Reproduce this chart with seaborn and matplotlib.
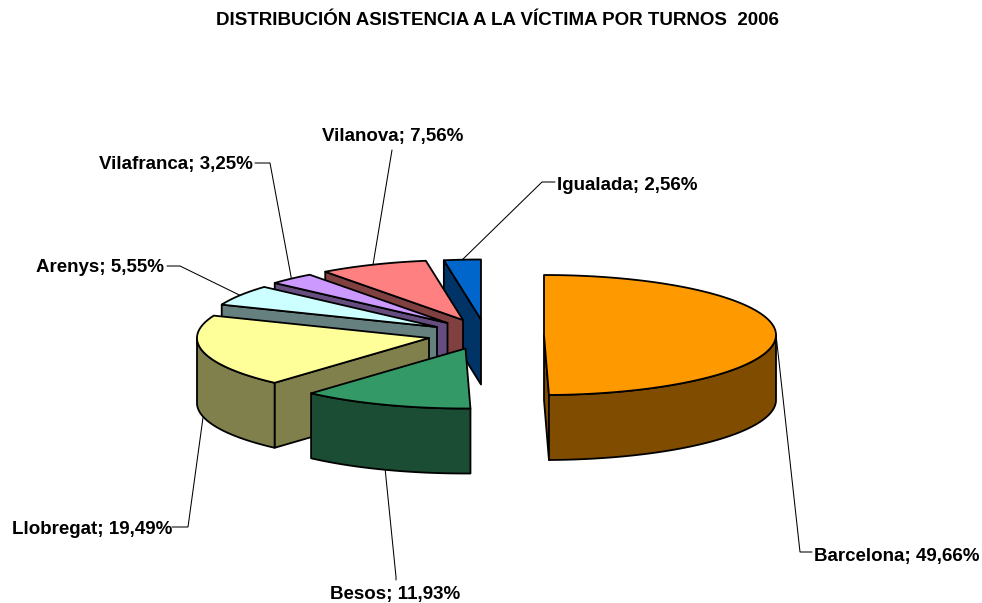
import numpy as np
import matplotlib
matplotlib.use("Agg")
import matplotlib.pyplot as plt
from matplotlib.patches import Polygon
import seaborn as sns

# ---- data ----
categories = ["Barcelona", "Besos", "Llobregat", "Arenys", "Vilafranca", "Vilanova", "Igualada"]
values = [49.66, 11.93, 19.49, 5.55, 3.25, 7.56, 2.56]
title = "DISTRIBUCIÓN ASISTENCIA A LA VÍCTIMA POR TURNOS  2006"

# ---- style ----
top_colors = ["#FF9900", "#339966", "#FFFF99", "#CCFFFF", "#CC99FF", "#FF8080", "#0066CC"]
wall_colors = ["#804D00", "#1A4D33", "#80804D", "#668080", "#664D80", "#804040", "#003366"]

# ---- layout (pixels) ----
pie_x, pie_y = 480, 320
rx, ry, depth = 232, 60, 65
explode_dx = [64, -14.5, -51, -43, -32.5, -17, 1]
explode_dy = [15, 28.5, 18, 7, 3, 0, -0.5]
draw_order = [6, 5, 4, 3, 2, 0, 1]
elbows = [(800, 552), (396, 577), (188, 527), (180, 266), (270, 163), (392, 150), (542, 182)]
label_pos = [(814, 557, "left"), (330, 594, "left"), (172, 530, "right"),
             (164.5, 268, "right"), (252.5, 165, "right"), (322, 137, "left"), (557, 185, "left")]
label_stub = [(812, 552), (396, 580), (172, 527), (167, 266), (255, 163), (392, 150), (555, 182)]

sns.set_style("white")
plt.rcParams["font.family"] = ["Liberation Sans", "DejaVu Sans"]

fig = plt.figure(figsize=(9.82, 6.03), dpi=100)
ax = fig.add_axes([0, 0, 1, 1])
ax.set_xlim(0, 982)
ax.set_ylim(603, 0)
ax.axis("off")

# slice angles, clockwise from north, from the values
edges = np.concatenate([[0], np.cumsum(values)]) / np.sum(values) * 360


def rim(cx, cy, theta):
    t = np.radians(theta)
    return np.column_stack([cx + rx * np.sin(t), cy - ry * np.cos(t)])


def face(points, color, z):
    ax.add_patch(Polygon(points, closed=True, facecolor=color, edgecolor="black",
                         linewidth=1.3, joinstyle="round", zorder=z))


z = 2
for i in draw_order:
    a0, a1 = edges[i], edges[i + 1]
    cx, cy = pie_x + explode_dx[i], pie_y + explode_dy[i]
    apex = np.array([[cx, cy]])
    down = np.array([0, depth])

    # radial walls that face the viewer
    if 180 < a0 < 360:
        p = rim(cx, cy, [a0])
        face(np.vstack([apex, p, p + down, apex + down]), wall_colors[i], z)
        z += 1
    if 0 < a1 < 180:
        p = rim(cx, cy, [a1])
        face(np.vstack([apex, p, p + down, apex + down]), wall_colors[i], z)
        z += 1

    # outer curved wall (front half only)
    lo, hi = max(a0, 90), min(a1, 270)
    if lo < hi:
        arc = rim(cx, cy, np.linspace(lo, hi, 80))
        face(np.vstack([arc, (arc + down)[::-1]]), wall_colors[i], z)
        z += 1

    # top face
    arc = rim(cx, cy, np.linspace(a0, a1, 120))
    face(np.vstack([apex, arc]), top_colors[i], z)
    z += 1

# leader lines and labels
for i, name in enumerate(categories):
    mid = (edges[i] + edges[i + 1]) / 2
    cx, cy = pie_x + explode_dx[i], pie_y + explode_dy[i]
    start = rim(cx, cy, [mid])[0]
    if 90 < mid < 270:
        start = start + np.array([0, depth])
    xs = [start[0], elbows[i][0], label_stub[i][0]]
    ys = [start[1], elbows[i][1], label_stub[i][1]]
    ax.plot(xs, ys, color="black", lw=0.75, zorder=50, solid_joinstyle="miter")
    text = f"{name}; {values[i]:.2f}%".replace(".", ",")
    lx, ly, ha = label_pos[i]
    ax.text(lx, ly, text, ha=ha, va="center", fontsize=13.5, fontweight="bold",
            color="black", zorder=60)

ax.text(497.5, 20.5, title, ha="center", va="center", fontsize=13.5,
        fontweight="bold", color="black")

fig.savefig("out.png", dpi=100, facecolor="white")
